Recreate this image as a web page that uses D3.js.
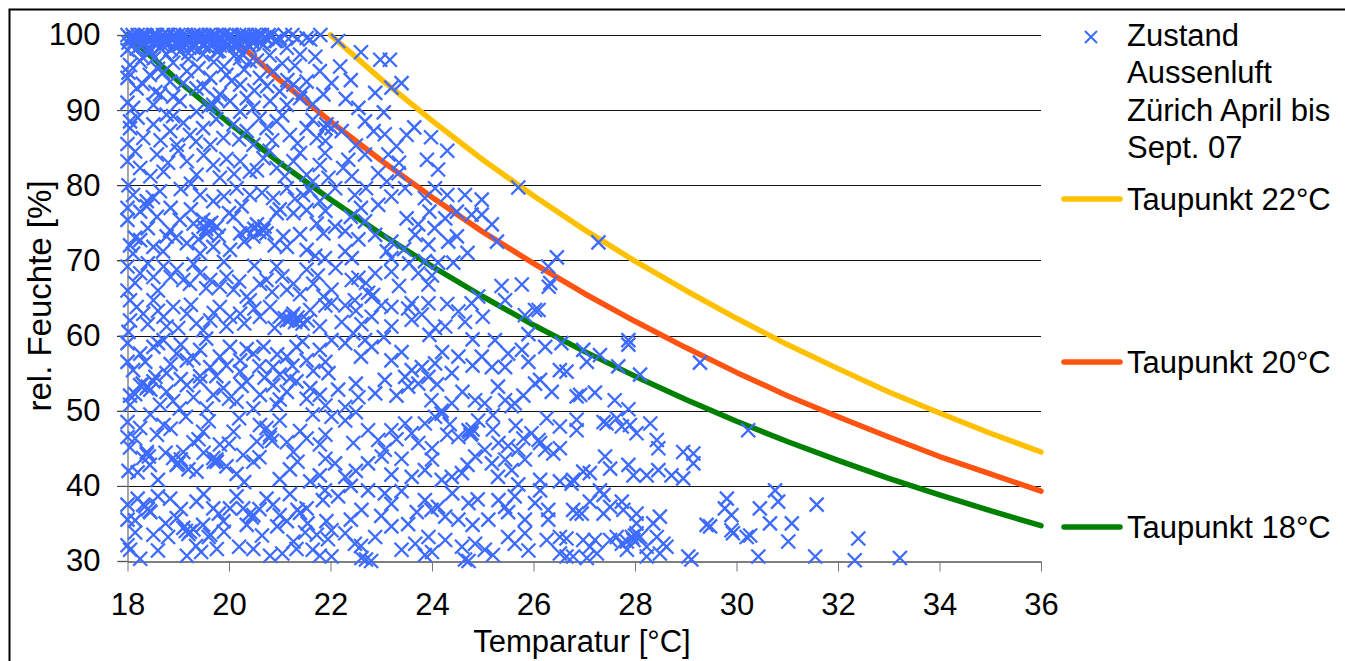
<!DOCTYPE html>
<html>
<head>
<meta charset="utf-8">
<script src="https://cdn.jsdelivr.net/npm/d3@7"></script>
<style>
  body { margin: 0; background: #fff; }
  text { font-family: "Liberation Sans", Arial, sans-serif; fill: #000; }
</style>
</head>
<body>
<div id="chart"></div>
<script>
///// Data

// axis ticks
var xTicks = [18, 20, 22, 24, 26, 28, 30, 32, 34, 36];
var yTicks = [30, 40, 50, 60, 70, 80, 90, 100];

// dew point curves: temperature [°C] and rel. humidity [%]
var tau22Temp = [22, 23, 24, 25, 26, 27, 28, 29, 30, 31, 32, 33, 34, 35, 36];
var tau22Hum  = [100, 94.1, 88.6, 83.4, 78.6, 74.1, 69.9, 66.0, 62.3, 58.8, 55.6, 52.5, 49.7, 47.0, 44.5];
var tau20Temp = [20, 21, 22, 23, 24, 25, 26, 27, 28, 29, 30, 31, 32, 33, 34, 35, 36];
var tau20Hum  = [100, 94.0, 88.5, 83.3, 78.4, 73.8, 69.6, 65.6, 61.9, 58.4, 55.1, 52.0, 49.2, 46.5, 43.9, 41.6, 39.3];
var tau18Temp = [18, 19, 20, 21, 22, 23, 24, 25, 26, 27, 28, 29, 30, 31, 32, 33, 34, 35, 36];
var tau18Hum  = [100, 93.9, 88.3, 83.0, 78.1, 73.5, 69.2, 65.2, 61.4, 57.9, 54.6, 51.5, 48.6, 45.9, 43.4, 41.0, 38.8, 36.7, 34.7];

// measured outside air states [temperature, rel. humidity]
var pointsSaturated = [
  [18.0,100],[18.05,99.6],[18.1,100],[18.15,99.2],[18.2,100],[18.3,99.7],[18.35,100],[18.4,99.4],[18.5,100],[18.55,99.8],
  [18.6,99.1],[18.7,100],[18.75,99.5],[18.8,100],[18.9,99.8],[18.95,99.0],[19.0,100],[19.1,99.6],[19.15,100],[19.25,99.3],
  [19.3,100],[19.4,99.7],[19.45,100],[19.55,99.2],[19.6,100],[19.7,99.8],[19.75,100],[19.85,99.4],[19.9,100],[20.0,99.7],
  [20.05,100],[20.15,99.1],[20.2,100],[20.3,99.6],[20.35,100],[20.45,99.3],[20.5,100],[20.6,99.8],[20.65,100],[18.25,98.6],
  [18.65,98.3],[19.05,98.8],[19.5,98.5],[19.95,98.7],[20.4,98.4],[18.45,97.8],[19.2,97.6],[19.8,97.9],[20.25,97.5],[20.75,99.5],
  [20.85,100],[21.0,99.6],[18.85,98.1],[21.6,99.4],[21.25,100],
  [18.02,99.0],[18.08,98.5],[18.12,99.8],[18.18,98.2],[18.22,99.4],[18.28,100],[18.32,98.8],[18.38,99.9],[18.42,98.4],[18.48,99.5],
  [18.52,98.9],[18.58,100],[18.62,99.6],[18.68,98.7],[18.72,99.3],[18.78,100],[18.82,98.9],[18.88,99.4],[18.92,100],[18.98,98.6],
  [19.02,99.3],[19.08,100],[19.12,98.9],[19.18,99.5],[19.22,98.3],[19.28,99.8],[19.32,98.8],[19.38,100],[19.42,99.1],[19.48,98.7],
  [19.52,99.9],[19.58,98.4],[19.62,99.3],[19.68,100],[19.72,98.9],[19.78,99.5],[19.82,98.6],[19.88,100],[19.92,99.2],[19.98,98.8],
  [20.02,100],[20.08,99.4],[20.12,98.6],[20.18,99.8],[20.22,98.9],[20.28,100],[20.32,99.1],[20.38,98.7],[20.42,99.8],[20.48,98.9],
  [20.52,99.5],[20.58,100],[20.62,99.0],[20.7,99.7],[20.78,100],[20.9,99.2],[21.1,100],[21.35,99.5],[21.8,100],[22.15,99.2]
];

var pointsLeft = [
  [18.05,96.0],[18.25,96.5],[18.52,96.9],[18.77,97.4],[19.03,97.8],[19.3,98.3],[19.49,97.4],[19.76,97.8],[19.95,98.3],[20.22,96.9],
  [20.41,96.5],[20.68,98.7],[20.94,99.2],[21.53,99.6],[21.14,98.3],[21.4,97.4],
  [18.0,94.3],[18.18,92.9],[18.44,94.7],[18.64,92.1],[18.84,93.8],[19.17,95.2],[19.36,92.9],[19.63,94.3],[19.82,92.1],[19.95,94.7],
  [20.22,93.4],[20.35,91.6],[20.61,94.3],[20.87,95.2],[21.0,92.5],[21.27,93.4],[21.53,93.8],[21.79,95.2],[21.86,92.1],
  [18.11,90.3],[18.51,90.7],[18.77,89.4],[19.03,91.2],[19.36,89.8],[19.69,90.7],[20.02,91.2],[20.22,89.8],[20.48,90.3],[20.81,91.2],
  [21.14,90.7],[21.4,91.6],
  [18.05,87.6],[18.31,86.3],[18.51,88.1],[18.84,87.2],[18.97,85.4],[19.23,86.7],[19.49,87.6],[19.63,85.4],[19.89,86.3],[20.09,88.1],
  [20.35,87.2],[20.48,85.4],[20.74,87.6],[20.94,88.5],[21.2,86.7],[21.53,87.6],[21.73,86.3],[21.92,88.1],
  [18.0,83.2],[18.25,82.3],[18.58,84.1],[18.71,81.8],[19.17,83.2],[19.36,81.4],[19.69,82.7],[19.82,81.0],[20.22,83.2],[20.41,81.8],
  [20.68,83.6],[20.94,82.3],[21.27,83.2],[21.53,81.4],[21.79,82.7],
  [18.11,78.7],[18.38,77.9],[18.64,79.2],[19.43,78.7],[19.69,77.9],[20.15,79.6],[20.41,78.7],[20.87,78.3],[21.14,79.6],[21.46,78.7],
  [21.79,77.9],
  [18.0,75.4],[18.38,77.2],[18.58,75.8],[18.84,74.0],[19.03,75.4],[19.3,74.9],[19.49,75.4],[19.56,73.6],[19.76,74.5],[20.09,75.8],
  [20.22,73.6],[20.35,74.0],[20.48,73.2],[20.68,74.0],[20.74,73.6],[20.94,76.3],[21.07,73.2],[21.27,76.3],[21.53,76.7],[21.73,74.9],
  [21.86,73.6],[18.25,72.7],[18.51,71.8],[18.77,73.2],[19.17,72.3],[19.69,71.8],[20.02,71.4],[21.14,71.8],[21.53,71.4],[18.11,70.9],
  [19.43,70.9],[19.5,74.5],[19.6,74.8],[20.5,74.2],[20.6,73.8],[20.7,74.5],
  [18.0,69.2],[18.25,68.3],[18.51,67.8],[18.71,69.2],[18.97,68.8],[19.1,67.4],[19.23,66.9],[19.43,68.3],[19.63,67.4],[19.82,66.5],
  [19.95,67.8],[20.09,66.1],[20.35,65.2],[20.61,66.9],[20.74,67.4],[20.94,69.2],[21.14,66.1],[21.27,66.9],[21.53,68.8],[21.66,66.9],
  [21.86,65.2],
  [18.05,64.7],[18.18,63.8],[18.31,62.9],[18.51,64.7],[18.71,62.5],[18.9,63.8],[19.17,62.9],[19.36,61.6],[19.63,62.0],[19.82,63.8],
  [20.02,62.5],[20.22,62.9],[20.41,64.7],[20.61,62.5],[20.81,63.8],[21.0,62.5],[21.14,62.0],[21.27,62.9],[21.4,62.0],[21.6,63.4],
  [21.79,61.2],[18.05,62.0],[18.77,61.2],[19.49,60.7],[21.1,62.3],[21.2,62.1],[21.3,61.8],[21.35,62.4],[21.45,61.6],
  [18.0,59.0],[18.25,57.6],[18.51,58.5],[18.71,59.4],[18.97,57.6],[19.17,56.7],[19.43,58.1],[19.63,55.8],[19.82,57.2],[20.02,58.5],
  [20.22,56.7],[20.48,57.6],[20.68,58.5],[20.87,55.8],[21.14,57.2],[21.33,58.5],[21.53,56.7],[21.79,58.1],[18.11,55.4],[18.77,55.0],
  [19.43,54.6],[20.22,55.2],[21.0,54.8],[21.66,55.3],
  [18.25,53.4],[18.38,53.0],[18.51,53.9],[18.77,52.5],[19.17,53.4],[19.43,53.9],[19.69,52.1],[19.89,53.0],[20.15,51.2],[20.35,53.9],
  [20.61,52.1],[20.87,53.4],[21.14,52.5],[21.33,53.9],[21.53,51.6],[21.79,52.1],[18.05,50.8],[18.64,50.8],[19.03,50.3],[19.56,50.3],
  [20.48,50.3],[20.94,50.8],[18.3,53.6],[18.4,53.2],[18.45,52.8],
  [18.0,48.5],[18.25,47.7],[18.38,44.5],[18.31,43.7],[18.44,42.8],[18.58,46.8],[18.71,48.1],[18.9,43.7],[18.97,42.8],[19.1,44.5],
  [19.3,45.8],[19.49,47.2],[19.69,43.7],[19.76,43.2],[19.82,45.5],[20.09,47.2],[20.28,44.1],[20.48,43.2],[20.61,48.1],[20.74,47.7],
  [20.81,46.8],[21.14,45.8],[21.27,44.5],[21.53,46.3],[21.79,45.5],[18.05,45.1],[19.36,41.9],[20.15,41.6],[21.2,42.2],[21.79,41.4],
  [18.38,44.2],[18.42,43.9],[19.05,43.5],[19.0,43.0],[19.75,43.5],[19.7,43.2],[20.8,46.4],[20.85,46.0],
  [18.0,37.5],[18.2,38.3],[18.31,37.5],[18.44,36.6],[18.51,33.5],[18.84,38.3],[18.97,35.7],[19.1,34.4],[19.23,33.9],[19.36,37.9],
  [19.49,34.8],[19.63,33.5],[19.69,37.0],[19.89,35.3],[20.02,37.0],[20.28,37.0],[20.35,34.8],[20.48,36.1],[20.74,38.3],[20.87,37.5],
  [21.0,36.1],[21.14,35.3],[21.27,32.6],[21.53,37.0],[21.73,33.5],[21.92,35.3],[18.0,32.1],[18.25,30.3],[19.17,30.7],[19.76,31.6],
  [20.48,31.6],[20.81,30.7],[21.33,31.6],[21.79,30.7],[18.35,37.3],[18.4,36.9],[18.45,36.5],[19.15,34.0],[19.2,33.6],[19.3,34.2],
  [19.6,33.2],[20.4,36.2],[20.45,35.8],[21.35,36.8],[21.4,36.4]
];

var pointsLeftDense = [
  [18.0,98.0],[18.02,95.0],[18.0,91.0],[18.05,88.5],[18.0,85.5],[18.02,80.0],[18.0,77.0],[18.05,72.0],[18.0,66.0],[18.02,60.5],
  [18.0,56.5],[18.05,52.0],[18.0,46.5],[18.02,42.0],[18.0,35.5],[18.05,31.5],
  [18.3,97.0],[18.6,95.5],[18.9,96.3],[19.2,96.8],[19.4,95.6],[19.7,96.4],[19.9,95.8],[20.1,97.2],[20.3,95.4],[20.55,96.6],
  [20.8,97.3],[21.05,96.2],[21.3,95.9],[21.7,97.1],
  [18.3,93.5],[18.55,92.4],[18.9,91.8],[19.1,93.6],[19.5,93.1],[19.75,91.5],[20.05,93.9],[20.5,92.6],[20.75,93.2],[21.15,94.0],
  [21.45,92.3],[21.65,90.8],[18.7,95.0],[19.6,90.5],
  [18.2,89.0],[18.65,86.0],[18.9,89.2],[19.1,88.3],[19.35,85.8],[19.75,88.8],[20.2,86.1],[20.6,88.9],[20.85,86.0],[21.05,89.3],
  [21.35,85.6],[21.65,88.7],[21.9,85.9],
  [18.15,84.5],[18.45,81.2],[18.8,83.0],[19.0,84.6],[19.5,84.0],[19.95,83.5],[20.1,81.5],[20.55,82.0],[20.8,84.6],[21.1,81.2],
  [21.4,84.3],[21.65,80.5],[19.25,80.2],
  [18.25,76.5],[18.5,78.4],[18.85,77.0],[19.05,79.5],[19.25,76.8],[19.9,78.5],[20.25,77.2],[20.65,79.0],[21.0,76.8],[21.3,78.2],
  [21.6,79.3],[21.9,76.6],[20.0,76.3],
  [18.4,74.3],[18.7,71.2],[18.95,73.0],[19.4,72.8],[19.55,74.2],[19.65,75.0],[19.8,73.3],[20.3,72.5],[20.55,74.8],[20.65,74.2],
  [20.9,72.0],[21.4,73.5],[21.7,70.6],[18.15,73.0],
  [18.15,67.0],[18.4,69.6],[18.6,66.0],[18.85,67.8],[19.3,69.5],[19.55,66.3],[19.9,69.8],[20.2,67.2],[20.5,69.3],[20.85,65.8],
  [21.05,67.9],[21.4,65.5],[21.75,68.0],
  [18.4,61.5],[18.6,63.3],[19.0,61.0],[19.25,64.1],[19.7,63.0],[19.95,61.2],[20.3,61.6],[20.5,63.6],[20.9,61.0],[21.25,62.6],
  [21.55,62.0],[21.9,64.0],
  [18.35,56.5],[18.6,59.0],[18.85,56.2],[19.05,58.8],[19.3,57.0],[19.55,59.6],[19.95,56.0],[20.35,58.2],[20.6,55.9],[20.95,57.5],
  [21.25,56.0],[21.45,59.2],[21.9,56.5],
  [18.15,52.2],[18.55,54.5],[18.9,51.3],[19.05,54.2],[19.3,51.8],[19.75,54.6],[20.0,51.6],[20.25,53.3],[20.7,54.4],[21.0,51.5],
  [21.2,54.3],[21.6,53.0],[21.9,50.7],
  [18.15,46.3],[18.45,49.5],[18.85,47.6],[19.15,49.2],[19.4,46.2],[19.6,48.6],[20.0,45.6],[20.2,49.0],[20.55,45.9],[21.0,48.7],
  [21.4,47.3],[21.65,49.5],[21.9,46.8],
  [18.2,41.8],[18.6,40.8],[18.75,44.4],[19.2,42.2],[19.5,44.4],[19.95,42.6],[20.3,40.5],[20.6,43.8],[21.0,40.9],[21.35,43.2],
  [21.6,40.6],[21.9,43.6],
  [18.15,35.4],[18.6,38.6],[18.75,35.0],[19.05,36.9],[19.5,38.9],[19.8,36.3],[20.15,38.6],[20.6,36.9],[20.95,34.6],[21.2,38.9],
  [21.55,35.0],[21.85,38.1],
  [18.15,33.8],[18.6,31.4],[18.8,33.2],[19.35,32.0],[19.45,31.2],[19.9,33.9],[20.2,31.9],[20.65,33.4],[21.05,31.0],[21.5,33.8],
  [21.65,31.5],[21.95,32.9]
];

var pointsMiddle = [
  [22.19,95.8],[22.02,93.6],[22.98,96.7],[23.17,96.7],[22.88,92.3],[23.2,93.0],[22.55,90.3],[22.68,88.5],[21.89,87.6],[22.02,87.6],
  [22.22,87.2],[23.07,86.8],[23.5,86.7],[23.98,86.4],[21.89,84.3],[22.35,83.4],[22.68,84.1],[23.14,84.1],[23.9,83.4],[24.12,82.1],
  [21.96,81.0],[22.42,81.2],[22.94,81.6],[23.11,80.5],[23.34,81.6],[22.09,79.6],[22.48,78.7],[23.47,79.6],[23.86,78.3],[24.06,79.6],
  [24.65,78.7],[24.98,78.1],[25.7,79.7],[22.94,77.4],[23.5,75.6],[23.73,74.8],[24.26,75.6],[24.49,76.5],[24.78,76.1],[24.98,76.1],
  [25.18,74.8],[22.09,74.5],[22.29,73.9],[22.68,75.2],[22.88,73.4],[23.2,72.5],[23.67,73.4],[23.93,72.1],[24.32,72.5],[24.49,73.2],
  [25.28,72.5],[21.89,70.3],[22.29,71.2],[22.42,70.3],[23.11,71.2],[23.2,70.3],[23.86,69.9],[24.12,69.7],[24.42,69.7],[22.88,68.3],
  [23.2,68.5],[23.73,68.3],[22.42,67.4],[22.55,67.7],[22.02,66.1],[22.74,65.7],[22.84,65.4],[23.93,66.8],[25.37,66.6],[25.77,66.8],
  [22.02,64.3],[22.29,64.0],[22.48,64.7],[22.81,65.2],[23.2,63.8],[23.53,63.6],[23.6,64.3],[23.93,64.3],[24.52,63.2],[24.78,64.3],
  [25.44,64.7],[25.83,62.7],[26.03,63.4],[24.91,65.2],
  [22.22,61.8],[22.61,61.5],[22.81,62.5],[23.2,61.2],[23.6,62.1],[24.06,61.0],[24.26,61.2],[24.65,61.8],[25.24,59.4],[25.5,57.6],
  [25.77,58.1],
  [22.02,59.4],[22.29,59.0],[22.68,59.4],[22.81,58.5],[23.2,56.7],[23.6,55.4],[23.47,54.5],[23.8,55.8],[23.93,54.5],[24.06,56.3],
  [24.52,57.2],[24.39,55.0],[24.98,57.2],[25.18,55.8],[25.44,55.8],[26.03,53.6],[25.63,51.0],
  [21.96,55.0],[22.15,52.8],[22.29,50.5],[22.55,51.8],[22.88,52.3],[23.07,54.1],[23.53,53.2],[23.73,53.6],[23.99,51.4],[24.19,50.0],
  [24.39,51.0],[24.85,51.4],[25.04,51.0],[25.44,51.4],[25.57,50.6],
  [22.02,49.2],[22.29,48.7],[22.74,47.4],[22.94,46.1],[23.07,44.8],[23.47,48.3],[23.6,47.0],[23.73,45.7],[23.86,48.3],[24.06,49.2],
  [24.19,49.6],[24.52,46.5],[24.72,47.4],[24.78,47.0],[24.91,48.7],[25.04,44.8],[25.31,45.7],[25.5,45.3],[25.7,44.8],[25.96,47.0],
  [26.1,46.1],[24.74,47.2],[24.8,47.5],[24.76,46.8],
  [22.09,43.0],[22.29,41.2],[22.74,43.0],[23.01,43.9],[23.4,43.6],[23.6,41.2],[23.86,42.1],[24.19,40.8],[24.39,41.2],[24.59,41.7],
  [24.85,43.9],[25.18,43.0],[25.44,43.5],[25.57,42.1],[25.83,43.5],
  [21.89,39.4],[22.15,38.6],[22.61,36.8],[22.74,39.4],[23.07,39.0],[23.2,37.6],[23.53,34.9],[23.86,38.1],[23.99,36.8],[24.12,37.2],
  [24.26,35.9],[24.52,35.5],[24.72,37.7],[25.11,35.5],[25.31,38.1],[25.44,37.2],[25.63,38.6],[25.83,35.5],[26.03,37.7],
  [22.02,34.1],[22.29,33.7],[22.48,32.3],[22.88,33.2],[23.2,34.6],[23.67,32.3],[23.93,33.2],[24.26,32.8],[24.59,31.9],[24.85,32.3],
  [25.04,31.5],[25.5,33.2],[25.63,32.3],[25.83,33.7],[22.02,30.6],[22.61,30.4],[24.65,30.2],[23.86,30.8],[22.7,30.2],[22.8,30.0],
  [24.72,30.0],
  [22.4,94.0],[22.6,97.7],[23.4,93.6],[22.3,91.5],[23.05,89.7],[22.85,87.2],[22.5,85.3],[23.3,85.2],[23.65,87.7],[23.35,83.0],
  [24.3,84.6],[22.25,82.3],[22.7,79.6],[23.2,78.5],[24.3,78.7],[22.6,77.0],[23.95,76.5],[22.4,75.8],[24.05,74.3],[22.55,72.8],
  [23.45,71.5],[24.7,71.0],[22.1,69.0],[23.55,69.6],[22.7,67.0],[23.35,66.6],[24.0,68.0],[22.5,63.3],[23.0,64.0],[23.8,62.8],
  [24.3,64.2],[25.0,62.5],[22.45,60.3],[23.05,59.8],[23.95,60.1],[24.8,59.5],[25.9,60.2],[22.6,57.2],[23.4,57.8],[24.2,57.8],
  [24.8,56.0],[25.9,56.5],[22.5,53.6],[23.3,52.0],[24.1,53.5],[24.6,52.5],[25.3,53.2],[25.8,52.0],[22.5,49.8],[23.2,47.4],
  [24.35,48.2],[25.2,49.4],[25.65,48.0],[22.45,45.7],[23.3,46.2],[24.0,45.0],[24.3,46.8],[25.2,47.5],[25.8,46.3],[22.5,42.0],
  [23.2,41.5],[24.0,43.5],[24.7,42.8],[25.3,41.2],[22.4,40.0],[23.4,39.3],[24.4,39.0],[24.9,38.2],[25.7,40.2],[22.4,35.5],
  [23.0,36.0],[23.7,36.5],[24.8,34.8],[25.5,36.5],[22.6,32.0],[23.4,31.5],[24.0,31.2],[25.2,30.8],[25.9,31.4]
];

var pointsRight = [
  [27.28,72.4],[26.46,70.4],[26.29,69.2],[26.33,67.0],[26.3,66.5],[26.1,63.4],[29.28,56.4],[26.23,58.5],[26.55,59.0],[26.98,58.1],
  [27.31,57.4],[27.05,56.5],[27.87,59.4],[27.87,58.8],[26.52,55.4],[26.65,55.2],[27.67,55.9],[28.1,54.8],[26.13,54.1],[26.36,52.5],
  [26.85,51.9],[26.92,52.1],[27.21,52.4],[27.6,51.4],[27.87,50.2],[26.26,49.0],[26.52,47.9],[26.85,48.8],[26.85,47.4],[27.38,48.5],
  [27.44,48.3],[27.74,47.9],[27.9,48.1],[28.03,47.0],[28.3,48.3],[28.43,46.1],[28.46,45.0],[26.13,45.7],[26.23,44.8],[26.39,44.3],
  [26.52,45.0],[27.41,43.9],[28.95,44.5],[29.15,44.3],[29.15,43.0],[26.98,41.9],[27.11,41.7],[27.51,42.3],[27.87,42.8],[27.97,41.4],
  [28.23,41.4],[28.46,42.1],[28.72,41.4],[28.95,41.0],[26.13,40.8],[26.13,39.4],[26.52,40.6],[26.75,40.3],[26.78,40.8],[27.31,39.4],
  [27.38,38.8],[29.81,38.3],[30.76,39.4],[30.82,37.9],[31.58,37.5],[26.29,36.8],[26.29,35.5],[26.78,36.8],[26.85,36.3],[26.95,36.3],
  [27.11,37.9],[27.38,36.3],[27.51,37.2],[27.74,37.9],[27.77,36.8],[28.03,36.3],[28.03,35.0],[28.49,35.9],[28.36,35.0],[29.77,37.0],
  [29.9,36.1],[30.46,37.0],[30.66,35.0],[31.09,35.0],[29.41,34.8],[29.48,34.6],[29.9,34.1],[29.93,33.7],[30.2,33.2],[30.27,33.4],
  [31.02,32.6],[32.4,33.0],[26.26,32.8],[26.52,33.2],[26.65,33.0],[26.98,32.8],[27.11,31.9],[27.21,32.8],[27.51,32.8],[27.64,33.2],
  [27.74,32.3],[27.84,32.6],[27.94,33.2],[28.0,33.4],[28.03,33.7],[27.84,31.5],[27.97,32.8],[28.1,33.2],[28.23,31.9],[28.43,33.2],
  [28.56,32.3],[28.62,31.9],[28.49,31.0],[26.52,31.0],[26.65,30.6],[26.78,30.6],[27.25,31.0],[27.05,30.4],[28.23,30.6],[29.05,30.6],
  [29.11,30.2],[30.43,30.6],[31.55,30.6],[32.33,30.1],[33.22,30.4],[30.23,47.4],[27.64,49.0]
];

var legendText = ["Zustand", "Aussenluft", "Zürich April bis", "Sept. 07"];


///// Chart

var width = 1345, height = 661;
var fontSize = "31px";
var blue = "#3d6bff";
var curves = [
  { name: "Taupunkt 22°C", color: "#ffc000", temp: tau22Temp, hum: tau22Hum, legendY: 199 },
  { name: "Taupunkt 20°C", color: "#ff5311", temp: tau20Temp, hum: tau20Hum, legendY: 362 },
  { name: "Taupunkt 18°C", color: "#008000", temp: tau18Temp, hum: tau18Hum, legendY: 527 }
];

var x = d3.scaleLinear().domain([18, 36]).range([127.5, 1041]);
var y = d3.scaleLinear().domain([30, 100]).range([561, 35]);

var svg = d3.select("#chart")
    .append("svg")
        .attr("width", width)
        .attr("height", height);

svg.append("rect")
    .attr("width", width).attr("height", height)
    .attr("fill", "#fff");

// outer frame
svg.append("rect")
    .attr("x", 9.5).attr("y", 9.5)
    .attr("width", 1400).attr("height", 700)
    .attr("fill", "none")
    .attr("stroke", "#000")
    .attr("stroke-width", 2);

// horizontal grid lines
svg.append("g")
    .selectAll("line")
    .data(yTicks.filter(function(d) { return d > 30; }))
    .join("line")
        .attr("x1", 117).attr("x2", 1041)
        .attr("y1", function(d) { return Math.round(y(d)) + 0.5; })
        .attr("y2", function(d) { return Math.round(y(d)) + 0.5; })
        .attr("stroke", "#111")
        .attr("stroke-width", 1);

// Y axis
var yAxis = svg.append("g")
    .attr("transform", "translate(127.5,0)")
    .call(d3.axisLeft(y).tickValues(yTicks).tickSize(10).tickPadding(17));
yAxis.select(".domain").attr("stroke", "#888").attr("stroke-width", 1.5);
yAxis.selectAll(".tick line").attr("stroke", "#555");
yAxis.selectAll("text")
    .style("font-family", "'Liberation Sans', Arial, sans-serif")
    .style("font-size", fontSize)
    .attr("fill", "#000");

// X axis
var xAxis = svg.append("g")
    .attr("transform", "translate(0,561.5)")
    .call(d3.axisBottom(x).tickValues(xTicks).tickSize(10).tickPadding(21).tickSizeOuter(0));
xAxis.select(".domain").attr("stroke", "#555").attr("stroke-width", 1.5);
xAxis.selectAll(".tick line").attr("stroke", "#777");
xAxis.selectAll("text")
    .style("font-family", "'Liberation Sans', Arial, sans-serif")
    .style("font-size", fontSize)
    .attr("fill", "#000");

// axis titles
svg.append("text")
    .attr("x", 582).attr("y", 652)
    .attr("text-anchor", "middle")
    .style("font-size", fontSize)
    .text("Temparatur [°C]");

svg.append("text")
    .attr("transform", "translate(51,296) rotate(-90)")
    .attr("text-anchor", "middle")
    .style("font-size", "33px")
    .text("rel. Feuchte [%]");

// dew point curves
var valueline = d3.line()
    .x(function(d) { return x(d[0]); })
    .y(function(d) { return y(d[1]); });

svg.append("g")
    .selectAll("path")
    .data(curves)
    .join("path")
        .attr("d", function(c) { return valueline(d3.zip(c.temp, c.hum)); })
        .attr("fill", "none")
        .attr("stroke", function(c) { return c.color; })
        .attr("stroke-width", 5.5)
        .attr("stroke-linecap", "round")
        .attr("stroke-linejoin", "round");

// scatter of measured states, drawn over the curves
var cross = "M-7,-7L7,7M-7,7L7,-7";
var allPoints = pointsSaturated.concat(pointsLeft, pointsLeftDense, pointsMiddle, pointsRight);

svg.append("g")
    .selectAll("path")
    .data(allPoints)
    .join("path")
        .attr("transform", function(d) { return "translate(" + x(d[0]) + "," + y(d[1]) + ")"; })
        .attr("d", cross)
        .attr("fill", "none")
        .attr("stroke", blue)
        .attr("stroke-width", 2.3);

// legend
var legend = svg.append("g");

legend.append("path")
    .attr("transform", "translate(1091,37)")
    .attr("d", "M-6,-6L6,6M-6,6L6,-6")
    .attr("fill", "none")
    .attr("stroke", blue)
    .attr("stroke-width", 2);

legend.selectAll("text.zustand")
    .data(legendText)
    .join("text")
        .attr("class", "zustand")
        .attr("x", 1127)
        .attr("y", function(d, i) { return 46 + i * 37.3; })
        .style("font-size", fontSize)
        .text(function(d) { return d; });

var legendRows = legend.selectAll("g.curve")
    .data(curves)
    .join("g")
        .attr("class", "curve")
        .attr("transform", function(c) { return "translate(0," + c.legendY + ")"; });

legendRows.append("line")
    .attr("x1", 1064).attr("x2", 1120)
    .attr("stroke", function(c) { return c.color; })
    .attr("stroke-width", 5.5)
    .attr("stroke-linecap", "round");

legendRows.append("text")
    .attr("x", 1127)
    .attr("y", 11)
    .style("font-size", fontSize)
    .text(function(c) { return c.name; });
</script>
</body>
</html>
